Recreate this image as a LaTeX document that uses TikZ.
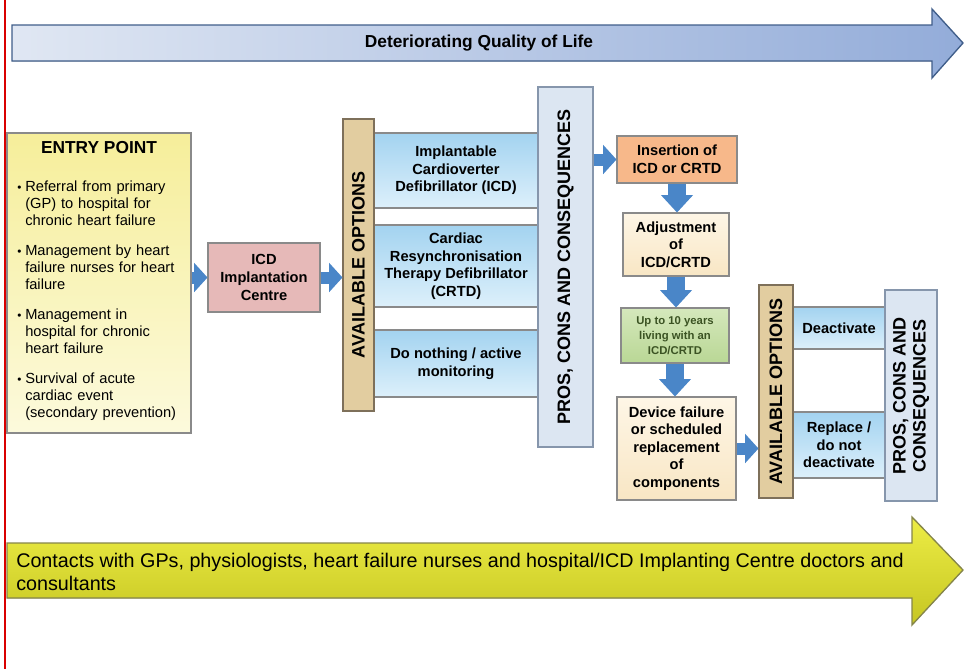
\documentclass[tikz,border=0pt]{standalone}
\usepackage{fontspec}
\setmainfont{Liberation Sans}
\usetikzlibrary{arrows.meta,positioning}

\definecolor{flowblue}{HTML}{4A86C8}
\definecolor{boxgrey}{HTML}{8A8A8A}
\definecolor{qolleft}{HTML}{E0E7F3}
\definecolor{qolright}{HTML}{93ACD9}
\definecolor{qolborder}{HTML}{405E8A}
\definecolor{ctctop}{HTML}{EDED45}
\definecolor{ctcbot}{HTML}{C6C622}
\definecolor{ctcborder}{HTML}{85854A}
\definecolor{entrytop}{HTML}{F6EE9A}
\definecolor{entrybot}{HTML}{FCFADC}
\definecolor{icdfill}{HTML}{E6B9B8}
\definecolor{tanfill}{HTML}{E2CDA0}
\definecolor{tanborder}{HTML}{7E705A}
\definecolor{opttop}{HTML}{A3D3F0}
\definecolor{optbot}{HTML}{DDF0FB}
\definecolor{prosfill}{HTML}{DCE6F2}
\definecolor{prosborder}{HTML}{8696AC}
\definecolor{insfill}{HTML}{F7B88A}
\definecolor{creamtop}{HTML}{FEF6E6}
\definecolor{creambot}{HTML}{F8E6C4}
\definecolor{greentop}{HTML}{D5E8BC}
\definecolor{greenbot}{HTML}{B9D795}
\definecolor{greentext}{HTML}{3B5323}

\newcommand{\entryitem}{\par\hangindent=6pt\hangafter=1\noindent\makebox[6pt][l]{\scalebox{0.8}{\textbullet}}}

\begin{document}
\begin{tikzpicture}[x=0.75pt,y=-0.75pt,
    box/.style={draw=boxgrey,line width=0.8pt,align=center,inner sep=1pt,
      font=\bfseries\fontsize{11}{13.2}\selectfont},
    optbox/.style={box,top color=opttop,bottom color=optbot,minimum width=123pt},
    creambox/.style={box,top color=creamtop,bottom color=creambot},
    tanbar/.style={draw=tanborder,line width=0.8pt,fill=tanfill},
    prosbar/.style={draw=prosborder,line width=0.8pt,fill=prosfill},
    bartext/.style={rotate=90,align=center,font=\bfseries\fontsize{13.5}{15}\selectfont},
    flow/.style={draw=flowblue,line width=9pt,-{Triangle[length=10pt,width=22pt,line width=0pt]}},
    downflow/.style={draw=flowblue,line width=14pt,-{Triangle[length=13pt,width=24pt,line width=0pt]}}]
    \useasboundingbox (0,0) rectangle (964,669);

    % page margin line
    \draw[red!85!black,line width=0.8pt] (5,0) -- (5,669);

    % Quality of life arrow
    \filldraw[left color=qolleft,right color=qolright,draw=qolborder,line width=1pt]
      (12,25) -- (932,25) -- (932,9) -- (963,43) -- (932,78) -- (932,61) -- (12,61) -- cycle;
    \node[font=\bfseries\fontsize{13}{15}\selectfont] (qol) at (479,43) {Deteriorating Quality of Life};

    % Contacts arrow
    \filldraw[top color=ctctop,bottom color=ctcbot,draw=ctcborder,line width=1pt]
      (7,543) -- (912,543) -- (912,517) -- (963,570) -- (912,625) -- (912,598) -- (7,598) -- cycle;
    \node[anchor=north west,align=left,inner sep=0pt,font=\fontsize{14.8}{17.25}\selectfont]
      (contacts) at (16,553) {Contacts with GPs, physiologists, heart failure nurses and hospital/ICD Implanting Centre doctors and\\consultants};

    % Entry point
    \node[draw=boxgrey,line width=0.8pt,top color=entrytop,bottom color=entrybot,
      minimum width=138pt,minimum height=225pt] (entry) at (99,283) {};
    \node[font=\bfseries\fontsize{13}{15}\selectfont] (entrytitle) at (99,148) {ENTRY POINT};
    \node[anchor=north west,text width=132pt,inner sep=0pt,align=left,
      font=\fontsize{11}{12.75}\selectfont] (entryitems) at (17,174) {%
      \entryitem Referral from primary\newline (GP) to hospital for\newline chronic heart failure\par\vspace{9.75pt}
      \entryitem Management by heart\newline failure nurses for heart\newline failure\par\vspace{9.75pt}
      \entryitem Management in\newline hospital for chronic\newline heart failure\par\vspace{9.75pt}
      \entryitem Survival of acute\newline cardiac event\newline (secondary prevention)\par};

    % ICD implantation centre
    \node[box,fill=icdfill,minimum width=84pt,minimum height=51.75pt] (icd) at (264,277.5)
      {ICD\\Implantation\\Centre};

    % Available options (first choice)
    \node[optbox,minimum height=56.25pt] (opt1) at (456,170.5)
      {Implantable\\Cardioverter\\Defibrillator (ICD)};
    \node[optbox,minimum height=61.5pt] (opt2) at (456,266)
      {Cardiac\\Resynchronisation\\Therapy Defibrillator\\(CRTD)};
    \node[optbox,minimum height=50.25pt] (opt3) at (456,363.5)
      {Do nothing / active\\monitoring};
    \node[tanbar,minimum width=23.25pt,minimum height=219pt] (avail1) at (358.5,265) {};
    \node[bartext] (avail1text) at (avail1) {AVAILABLE OPTIONS};
    \node[prosbar,minimum width=41.25pt,minimum height=270pt] (pros1) at (565.5,267) {};
    \node[bartext] (pros1text) at (pros1) {PROS, CONS AND CONSEQUENCES};

    % Device path
    \node[box,fill=insfill,minimum width=90pt,minimum height=35.25pt] (insert) at (677,159.5)
      {Insertion of\\ICD or CRTD};
    \node[creambox,minimum width=79.5pt,minimum height=47.25pt] (adjust) at (676,244.5)
      {Adjustment\\of\\ICD/CRTD};
    \node[box,top color=greentop,bottom color=greenbot,minimum width=81pt,minimum height=41.25pt,
      text=greentext,font=\bfseries\fontsize{8.5}{11}\selectfont] (years) at (675,335.5)
      {Up to 10 years\\living with an\\ICD/CRTD};
    \node[creambox,minimum width=89.25pt,minimum height=77.25pt] (device) at (676.5,448.5)
      {Device failure\\or scheduled\\replacement\\of\\components};

    % Available options (second choice)
    \node[optbox,minimum width=69pt,minimum height=31.5pt] (deact) at (839,328) {Deactivate};
    \node[optbox,minimum width=69pt,minimum height=49.5pt] (replace) at (839,445)
      {Replace /\\do not\\deactivate};
    \node[tanbar,minimum width=25.5pt,minimum height=159.75pt] (avail2) at (776,391.5) {};
    \node[bartext] (avail2text) at (avail2) {AVAILABLE OPTIONS};
    \node[prosbar,minimum width=39pt,minimum height=158.25pt] (pros2) at (911,395.5) {};
    \node[bartext] (pros2text) at (pros2) {PROS, CONS AND\\CONSEQUENCES};

    % Link the different parts
    \draw[flow] (entry.east |- icd.west) -- (icd.west);
    \draw[flow] (icd.east) -- (avail1.west |- icd.east);
    \draw[flow] (pros1.east |- insert.west) -- (insert.west);
    \draw[downflow] (insert.south) -- (adjust.north -| insert.south);
    \draw[downflow] (adjust.south) -- (years.north -| adjust.south);
    \draw[downflow] (years.south) -- (device.north -| years.south);
    \draw[flow] (device.east) -- (avail2.west |- device.east);
\end{tikzpicture}
\end{document}
